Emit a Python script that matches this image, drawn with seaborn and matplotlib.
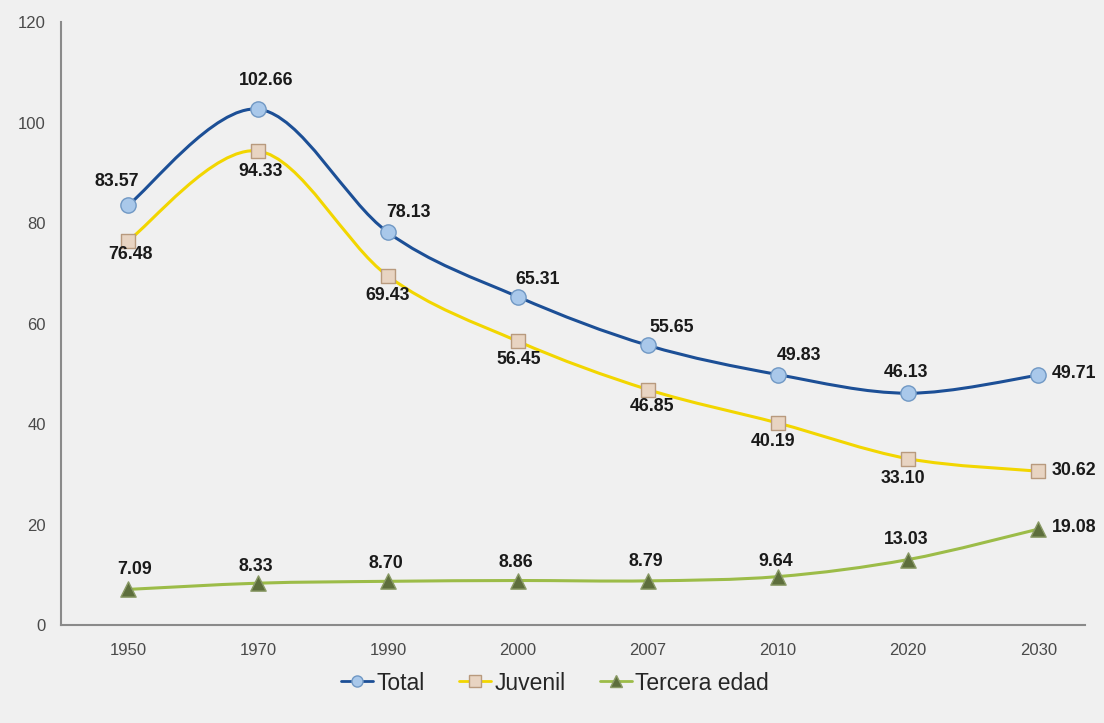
import numpy as np
import matplotlib
matplotlib.use('Agg')
import matplotlib.pyplot as plt
from matplotlib.path import Path
from matplotlib.patches import PathPatch
from matplotlib.lines import Line2D
import seaborn as sns
import pandas as pd

years = ['1950', '1970', '1990', '2000', '2007', '2010', '2020', '2030']
total = [83.57, 102.66, 78.13, 65.31, 55.65, 49.83, 46.13, 49.71]
juvenil = [76.48, 94.33, 69.43, 56.45, 46.85, 40.19, 33.10, 30.62]
tercera = [7.09, 8.33, 8.70, 8.86, 8.79, 9.64, 13.03, 19.08]

# label offsets in pixels (dx, dy)
off_total = [(-11, 24), (8, 29), (20, 20), (20, 17), (24, 18), (21, 19), (-2, 21), (36, 2)]
off_juv = [(2, -14), (3, -20), (0, -19), (1, -18), (4, -17), (-5, -18), (-5, -20), (36, 1)]
off_ter = [(7, 20), (-2, 17), (-2, 18), (-2, 18), (-2, 19), (-2, 15), (-2, 20), (36, 2)]

bg = '#f0f0f0'
sns.set_style('white')
plt.rcParams['font.family'] = ['Liberation Sans', 'DejaVu Sans']

fig = plt.figure(figsize=(11.04, 7.23), dpi=100, facecolor=bg)
ax = fig.add_axes([0.0553, 0.1355, 0.9275, 0.834])
ax.set_facecolor(bg)

xs = np.arange(len(years))


def smooth_path(x, y):
    # catmull-rom style bezier through the points (like office "smoothed line")
    pts = np.column_stack([x, y]).astype(float)
    n = len(pts)
    verts = [pts[0]]
    codes = [Path.MOVETO]
    for i in range(n - 1):
        p0 = pts[max(i - 1, 0)]
        p1 = pts[i]
        p2 = pts[i + 1]
        p3 = pts[min(i + 2, n - 1)]
        c1 = p1 + (p2 - p0) / 6.0
        c2 = p2 - (p3 - p1) / 6.0
        verts += [c1, c2, p2]
        codes += [Path.CURVE4] * 3
    return Path(verts, codes)


series = [
    ('Total', total, '#1c4f96', 'o', '#a9c8ea', '#7098c4', 11, off_total),
    ('Juvenil', juvenil, '#f2d600', 's', '#e8d4c2', '#b89a7e', 10, off_juv),
    ('Tercera edad', tercera, '#9cbc48', '^', '#5d6e3c', '#8a9a66', 11, off_ter),
]

handles = []
for name, vals, lc, mk, mfc, mec, ms, offs in series:
    ax.add_patch(PathPatch(smooth_path(xs, vals), facecolor='none', edgecolor=lc,
                           lw=2.2, zorder=2))
    df = pd.DataFrame({'x': xs, 'y': vals})
    sns.scatterplot(data=df, x='x', y='y', marker=mk, s=ms ** 2, color=mfc,
                    edgecolor=mec, linewidth=1.0, ax=ax, zorder=3)
    for xi, v, (dx, dy) in zip(xs, vals, offs):
        ax.annotate(f'{v:.2f}', (xi, v), xytext=(dx, dy), textcoords='offset pixels',
                    ha='center', va='center', fontsize=12.8, fontweight='bold',
                    color='#1a1a1a', zorder=4)
    handles.append(Line2D([], [], color=lc, lw=2, marker=mk, markersize=8,
                          markerfacecolor=mfc, markeredgecolor=mec, label=name))

ax.set_xlim(-0.515, 7.36)
ax.set_ylim(0, 120)
ax.set_yticks(np.arange(0, 121, 20))
ax.set_xticks(xs)
ax.set_xticklabels(years)
ax.set_xlabel('')
ax.set_ylabel('')
ax.tick_params(axis='both', length=0, labelsize=12, labelcolor='#4a4a4a')
ax.tick_params(axis='y', pad=11)
ax.tick_params(axis='x', pad=13)

sns.despine(ax=ax, top=True, right=True)
ax.spines['left'].set_color('#8a8a8a')
ax.spines['left'].set_linewidth(1.5)
ax.spines['bottom'].set_color('#8a8a8a')
ax.spines['bottom'].set_linewidth(1.5)

fig.legend(handles=handles, loc='center', bbox_to_anchor=(555 / 1104, 1 - 683 / 723),
           ncol=3, frameon=False, fontsize=16.5, handlelength=1.4, handletextpad=0.15,
           columnspacing=1.5)

fig.savefig('out.png', dpi=100, facecolor=bg)
